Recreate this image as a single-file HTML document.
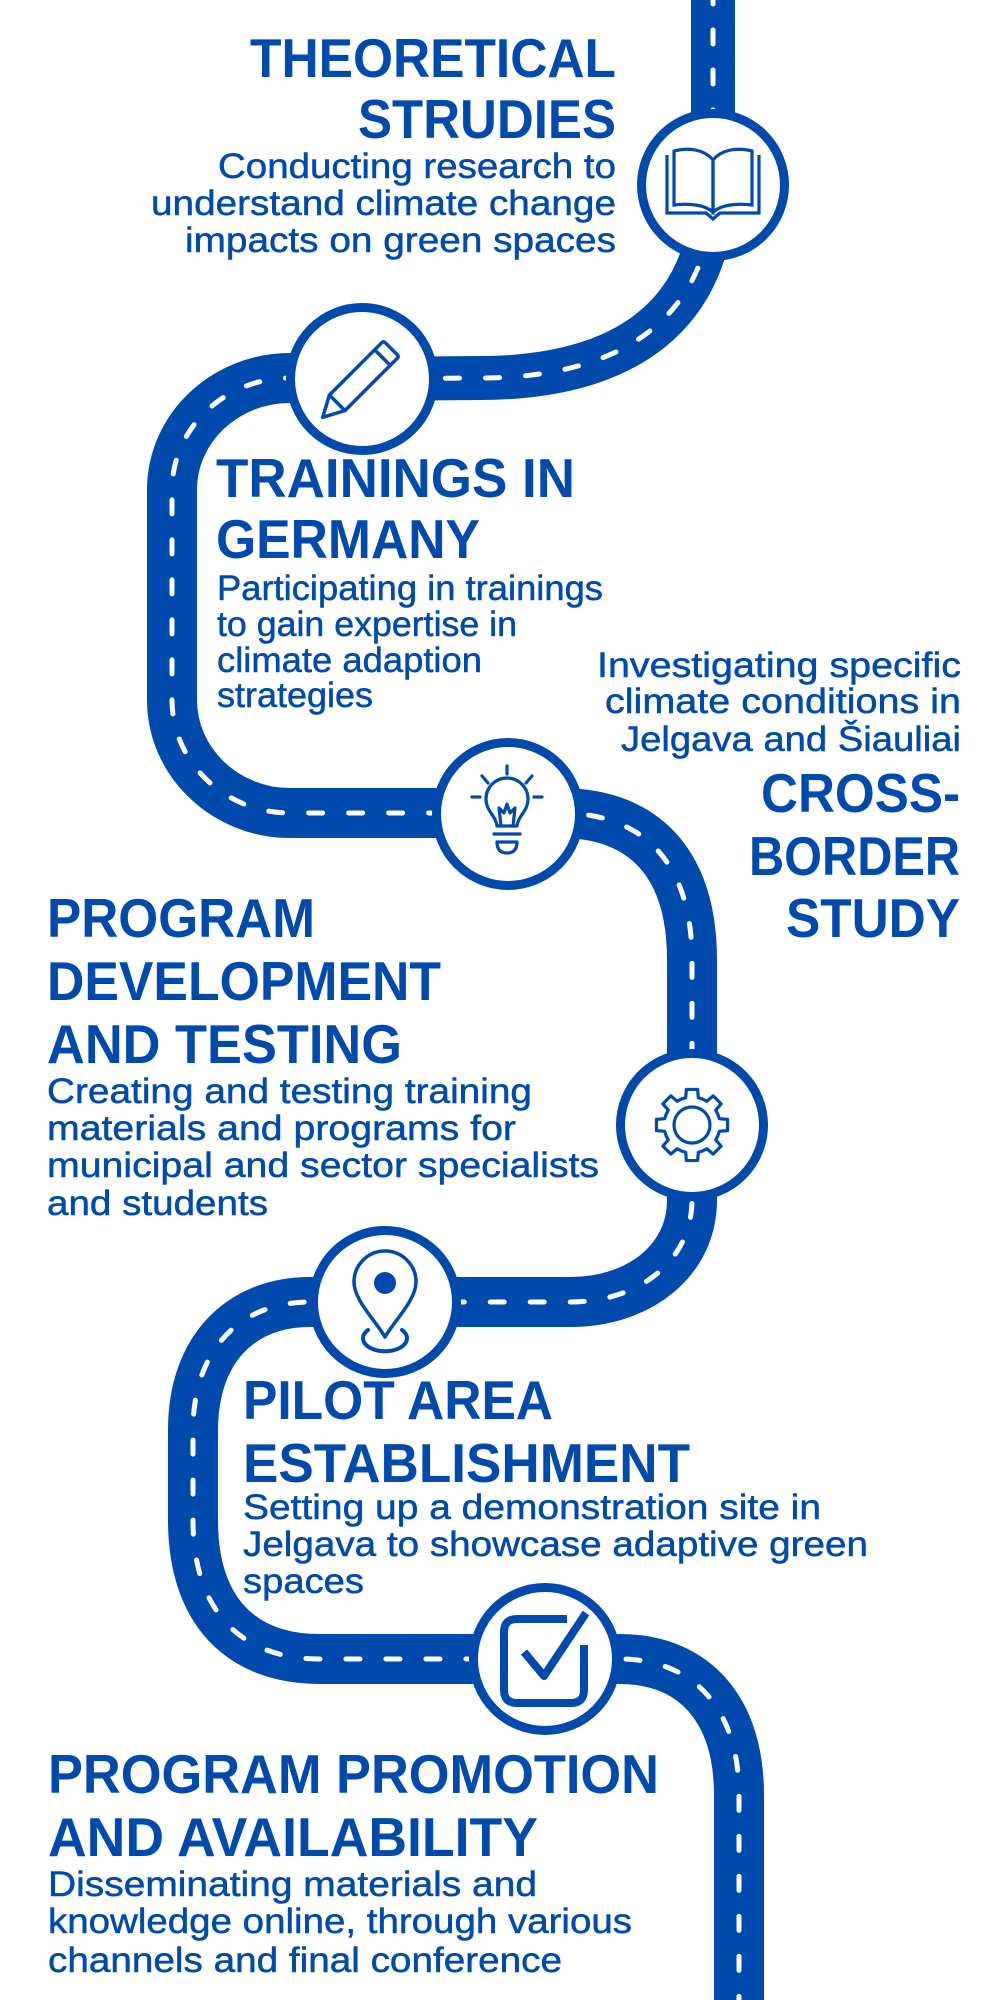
<!DOCTYPE html>
<html>
<head>
<meta charset="utf-8">
<style>
html,body{margin:0;padding:0;background:#fff;}
svg{display:block;}
.t{font-family:"Liberation Sans",Arial,sans-serif;font-weight:bold;font-size:55px;fill:#004AAD;}
.b{font-family:"Liberation Sans",Arial,sans-serif;font-weight:normal;font-size:35px;fill:#004AAD;stroke:#004AAD;stroke-width:0.5px;}
</style>
</head>
<body>
<svg width="1000" height="2000" viewBox="0 0 1000 2000" xmlns="http://www.w3.org/2000/svg">
  <rect x="0" y="0" width="1000" height="2000" fill="#fff"/>

  <!-- Road -->
  <path d="M713,-10 L713,185 C713,315 625,378 480,378 L362,379" fill="none" stroke="#004AAD" stroke-width="44"/>
  <path d="M362,379 L290,378 C225,378 172,428 172,490 L172,700 C172,762 225,813 290,813 L560,813 C650,813 692,870 692,960 L692,1200 C692,1260 640,1302 570,1302 L310,1302 C240,1302 193,1350 193,1430 L193,1520 C193,1610 240,1659 320,1659 L619,1659 C695,1659 739,1710 739,1795 L739,2010" fill="none" stroke="#004AAD" stroke-width="50"/>
  <!-- Dashes -->
  <path d="M713,-10 L713,185 C713,315 625,378 480,378 L362,379 L290,378 C225,378 172,428 172,490 L172,700 C172,762 225,813 290,813 L560,813 C650,813 692,870 692,960 L692,1200 C692,1260 640,1302 570,1302 L310,1302 C240,1302 193,1350 193,1430 L193,1520 C193,1610 240,1659 320,1659 L619,1659 C695,1659 739,1710 739,1795 L739,2010" fill="none" stroke="#fff" stroke-width="5" stroke-linecap="round" stroke-dasharray="14 26"/>

  <!-- Circles -->
  <g fill="#fff" stroke="#004AAD" stroke-width="9">
    <circle cx="713" cy="185" r="71.5"/>
    <circle cx="362" cy="379" r="71.5"/>
    <circle cx="508" cy="814" r="71.5"/>
    <circle cx="692" cy="1125" r="71.5"/>
    <circle cx="385" cy="1302" r="71.5"/>
    <circle cx="545" cy="1659" r="71.5"/>
  </g>

  <!-- Book icon -->
  <g fill="none" stroke="#004AAD" stroke-width="3.2" stroke-linejoin="miter">
    <path d="M674,151 C690,147 705,150 713,160 L713,212 C705,205 690,203 674,205 Z"/>
    <path d="M752,151 C736,147 721,150 713,160 L713,212 C721,205 736,203 752,205 Z"/>
    <path d="M667,155 L667,213 L706,213 L713,219 L720,213 L759,213 L759,155"/>
  </g>

  <!-- Pencil icon -->
  <g transform="translate(357,383) rotate(-45)" fill="none" stroke="#004AAD" stroke-width="3.5" stroke-linejoin="round">
    <path d="M-28,-11 L46,-11 Q48.5,-11 48.5,-8.5 L48.5,8.5 Q48.5,11 46,11 L-28,11 Z"/>
    <line x1="36" y1="-11" x2="36" y2="11"/>
    <path d="M-28,-11 L-48.5,0 L-28,11"/>
  </g>

  <!-- Bulb icon -->
  <g fill="none" stroke="#004AAD" stroke-width="3.2" stroke-linecap="round" stroke-linejoin="round">
    <path d="M497,826 C496,816 486,811 486,799 A21,21 0 1 1 528,799 C528,811 518,816 517,826 Z"/>
    <path d="M501,826 L499,808 L504,813 L507,804 L510,813 L515,808 L513,826"/>
    <line x1="494" y1="834" x2="520" y2="834"/>
    <path d="M497,842 L517,842 C517,850 513,853 507,853 C501,853 497,850 497,842 Z"/>
    <line x1="507" y1="766" x2="507" y2="774"/>
    <line x1="482" y1="776" x2="488" y2="783"/>
    <line x1="532" y1="776" x2="526" y2="783"/>
    <line x1="472" y1="797" x2="480" y2="797"/>
    <line x1="534" y1="797" x2="542" y2="797"/>
  </g>

  <!-- Gear icon -->
  <g transform="translate(692,1125)" fill="none" stroke="#004AAD" stroke-width="3.2" stroke-linejoin="round">
    <path d="M-6.30,-27.28 L-5.63,-35.56 L5.63,-35.56 L6.30,-27.28 A28,28 0 0 1 14.84,-23.74 L21.16,-29.12 L29.12,-21.16 L23.74,-14.84 A28,28 0 0 1 27.28,-6.30 L35.56,-5.63 L35.56,5.63 L27.28,6.30 A28,28 0 0 1 23.74,14.84 L29.12,21.16 L21.16,29.12 L14.84,23.74 A28,28 0 0 1 6.30,27.28 L5.63,35.56 L-5.63,35.56 L-6.30,27.28 A28,28 0 0 1 -14.84,23.74 L-21.16,29.12 L-29.12,21.16 L-23.74,14.84 A28,28 0 0 1 -27.28,6.30 L-35.56,5.63 L-35.56,-5.63 L-27.28,-6.30 A28,28 0 0 1 -23.74,-14.84 L-29.12,-21.16 L-21.16,-29.12 L-14.84,-23.74 A28,28 0 0 1 -6.30,-27.28 Z"/>
    <circle cx="0" cy="0" r="18"/>
  </g>

  <!-- Pin icon -->
  <g fill="none" stroke="#004AAD" stroke-width="3.5" stroke-linejoin="round" stroke-linecap="round">
    <path d="M385,1337 C375,1320 354,1300 354,1282 A31,31 0 1 1 416,1282 C416,1300 395,1320 385,1337 Z"/>
    <path d="M368,1330 A22,13 0 1 0 402,1330" stroke-width="4"/>
  </g>
  <circle cx="385" cy="1283" r="11" fill="#004AAD"/>

  <!-- Check icon -->
  <g fill="none" stroke="#004AAD" stroke-width="8" stroke-linejoin="round">
    <path d="M567,1619 L517,1619 Q504,1619 504,1632 L504,1690 Q504,1703 517,1703 L571,1703 Q584,1703 584,1690 L584,1645"/>
    <path d="M524,1652 L544,1676 L586,1613"/>
  </g>

  <!-- Block 1 -->
  <text class="t" x="250" y="77" textLength="366" lengthAdjust="spacingAndGlyphs">THEORETICAL</text>
  <text class="t" x="358" y="138" textLength="258" lengthAdjust="spacingAndGlyphs">STRUDIES</text>
  <text class="b" x="218" y="178" textLength="398" lengthAdjust="spacingAndGlyphs">Conducting research to</text>
  <text class="b" x="151" y="215" textLength="465" lengthAdjust="spacingAndGlyphs">understand climate change</text>
  <text class="b" x="185" y="252" textLength="431" lengthAdjust="spacingAndGlyphs">impacts on green spaces</text>

  <!-- Block 2 -->
  <text class="t" x="216" y="497" textLength="359" lengthAdjust="spacingAndGlyphs">TRAININGS IN</text>
  <text class="t" x="216" y="558" textLength="264" lengthAdjust="spacingAndGlyphs">GERMANY</text>
  <text class="b" x="217" y="600" textLength="386" lengthAdjust="spacingAndGlyphs">Participating in trainings</text>
  <text class="b" x="217" y="636" textLength="300" lengthAdjust="spacingAndGlyphs">to gain expertise in</text>
  <text class="b" x="217" y="672" textLength="265" lengthAdjust="spacingAndGlyphs">climate adaption</text>
  <text class="b" x="217" y="707" textLength="156" lengthAdjust="spacingAndGlyphs">strategies</text>

  <!-- Block 3 -->
  <text class="b" x="597" y="677" textLength="364" lengthAdjust="spacingAndGlyphs">Investigating specific</text>
  <text class="b" x="605" y="713" textLength="356" lengthAdjust="spacingAndGlyphs">climate conditions in</text>
  <text class="b" x="621" y="751" textLength="340" lengthAdjust="spacingAndGlyphs">Jelgava and Šiauliai</text>
  <text class="t" x="761" y="812" textLength="199" lengthAdjust="spacingAndGlyphs">CROSS-</text>
  <text class="t" x="749" y="875" textLength="211" lengthAdjust="spacingAndGlyphs">BORDER</text>
  <text class="t" x="786" y="937" textLength="174" lengthAdjust="spacingAndGlyphs">STUDY</text>

  <!-- Block 4 -->
  <text class="t" x="47" y="937" textLength="268" lengthAdjust="spacingAndGlyphs">PROGRAM</text>
  <text class="t" x="47" y="1000" textLength="394" lengthAdjust="spacingAndGlyphs">DEVELOPMENT</text>
  <text class="t" x="47" y="1063" textLength="355" lengthAdjust="spacingAndGlyphs">AND TESTING</text>
  <text class="b" x="47" y="1103" textLength="485" lengthAdjust="spacingAndGlyphs">Creating and testing training</text>
  <text class="b" x="47" y="1140" textLength="469" lengthAdjust="spacingAndGlyphs">materials and programs for</text>
  <text class="b" x="47" y="1177" textLength="552" lengthAdjust="spacingAndGlyphs">municipal and sector specialists</text>
  <text class="b" x="47" y="1215" textLength="221" lengthAdjust="spacingAndGlyphs">and students</text>

  <!-- Block 5 -->
  <text class="t" x="243" y="1419" textLength="310" lengthAdjust="spacingAndGlyphs">PILOT AREA</text>
  <text class="t" x="243" y="1482" textLength="447" lengthAdjust="spacingAndGlyphs">ESTABLISHMENT</text>
  <text class="b" x="243" y="1519" textLength="578" lengthAdjust="spacingAndGlyphs">Setting up a demonstration site in</text>
  <text class="b" x="243" y="1556" textLength="625" lengthAdjust="spacingAndGlyphs">Jelgava to showcase adaptive green</text>
  <text class="b" x="243" y="1593" textLength="121" lengthAdjust="spacingAndGlyphs">spaces</text>

  <!-- Block 6 -->
  <text class="t" x="48" y="1793" textLength="611" lengthAdjust="spacingAndGlyphs">PROGRAM PROMOTION</text>
  <text class="t" x="48" y="1856" textLength="490" lengthAdjust="spacingAndGlyphs">AND AVAILABILITY</text>
  <text class="b" x="48" y="1896" textLength="489" lengthAdjust="spacingAndGlyphs">Disseminating materials and</text>
  <text class="b" x="48" y="1933" textLength="584" lengthAdjust="spacingAndGlyphs">knowledge online, through various</text>
  <text class="b" x="48" y="1972" textLength="514" lengthAdjust="spacingAndGlyphs">channels and final conference</text>
</svg>
</body>
</html>
